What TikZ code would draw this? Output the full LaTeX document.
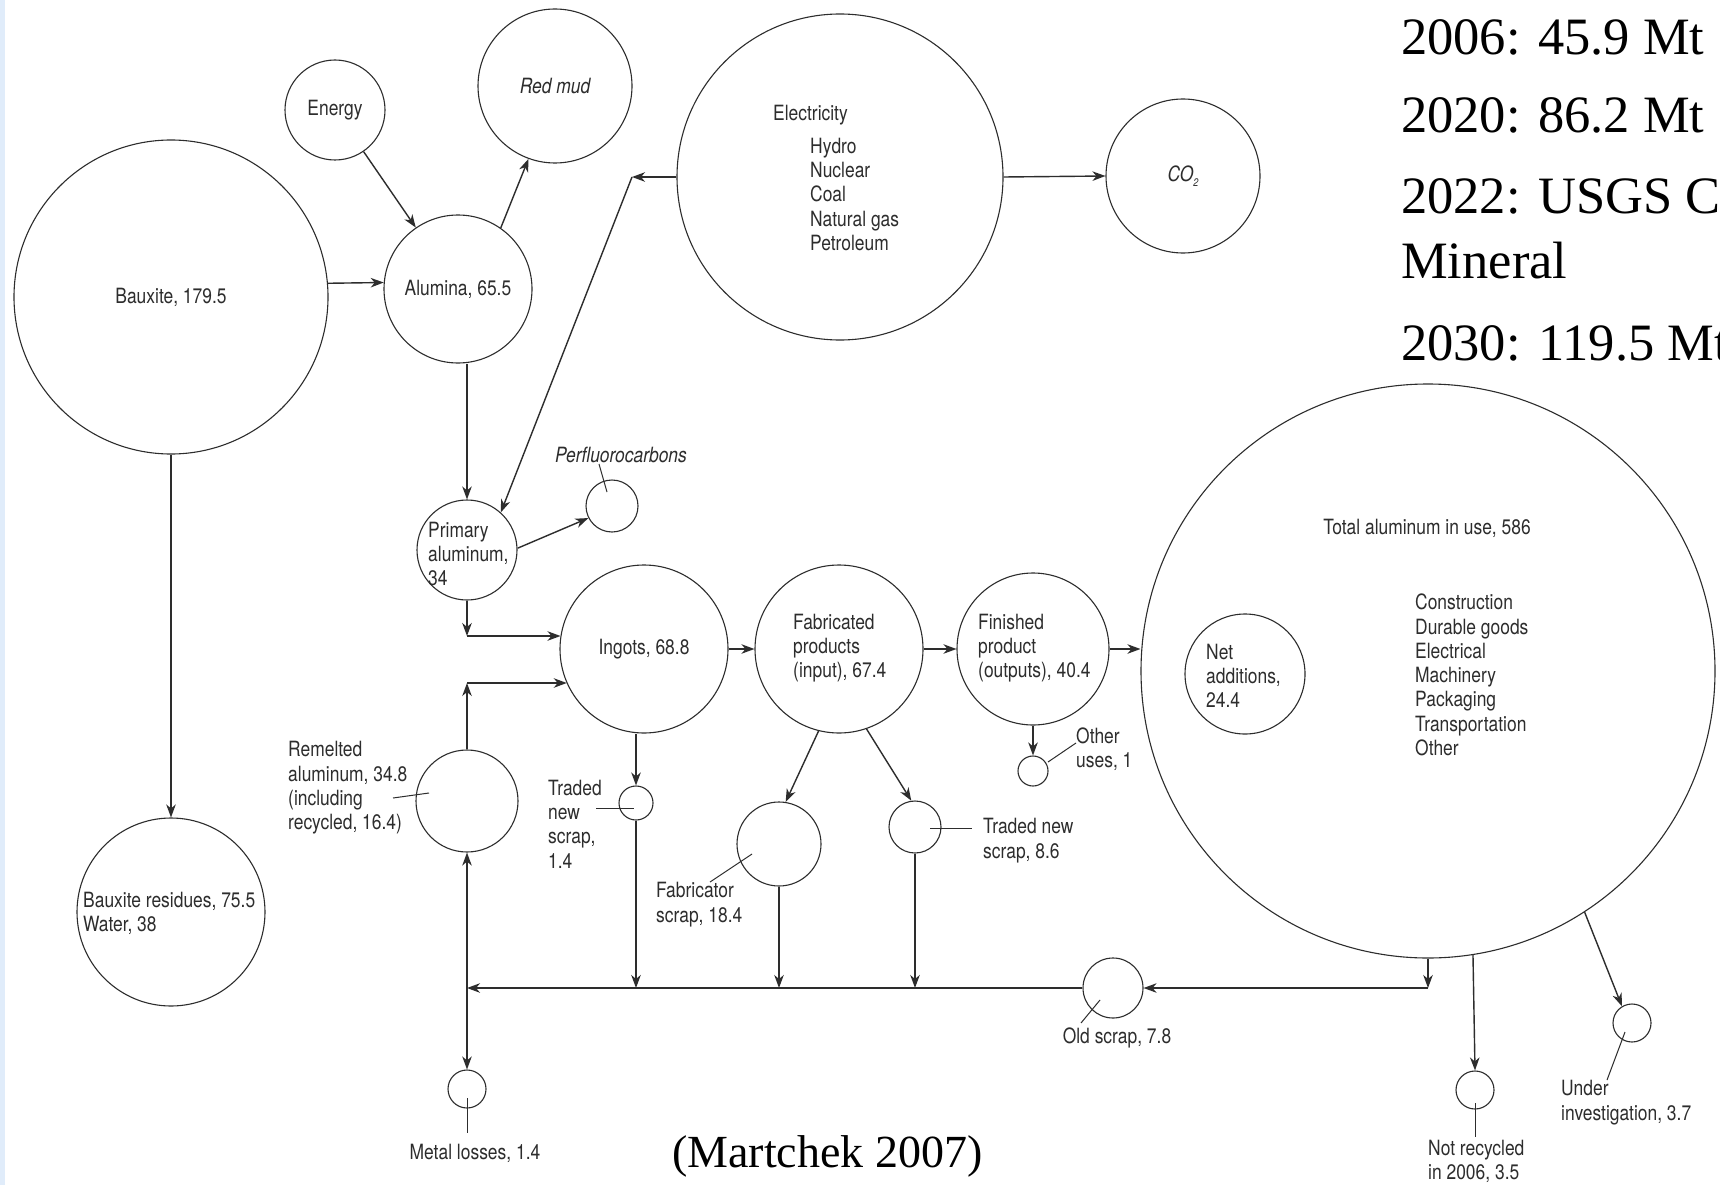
\documentclass[tikz,border=0pt]{standalone}
\usepackage{fontspec}
\setmainfont{Liberation Serif}
\newfontfamily\dfont[FakeStretch=0.83]{TeX Gyre Heros}
\usetikzlibrary{arrows.meta}
\definecolor{leftband}{RGB}{224,236,250}
\definecolor{ink}{RGB}{45,45,45}

\begin{document}
\begin{tikzpicture}[x=1pt,y=-1pt,
  every node/.style={inner sep=0pt},
  ln/.style={line width=1.4pt, draw=ink},
  arr/.style={ln, -{Stealth[length=13pt,width=9.5pt,inset=4pt]}},
  ball/.style={circle, draw=ink, line width=1.1pt, minimum size=#1pt, inner sep=0pt},
  txt/.style={font={\dfont\fontsize{21}{24.3}\selectfont}, text=ink, align=left},
  big/.style={font={\fontsize{52.5}{60}\selectfont}, anchor=base west},
]
\useasboundingbox (0,0) rectangle (1720,1185);
\clip (0,0) rectangle (1720,1185);
\fill[white] (0,0) rectangle (1720,1185);
\fill[leftband] (0,0) rectangle (5,1185);

% ---- stocks and flows (circles)
\node[ball=100, txt] (energy) at (335,110) {Energy};
\node[ball=154, txt] (redmud) at (555,86) {\itshape Red mud};
\node[ball=314, txt] (bauxite) at (171,297) {Bauxite, 179.5};
\node[ball=148, txt] (alumina) at (458,289) {Alumina, 65.5};
\node[ball=326] (elec) at (840,177) {};
\node[ball=154, txt] (co2) at (1183,176) {\itshape CO\raisebox{-0.45ex}{\fontsize{11}{11}\selectfont 2}};
\node[ball=100] (prim) at (467,550) {};
\node[ball=52] (pfc) at (612,506) {};
\node[ball=168, txt] (ingots) at (644,649) {Ingots, 68.8};
\node[ball=168] (fab) at (839,649) {};
\node[ball=152] (fin) at (1033,649) {};
\node[ball=574] (total) at (1428,671) {};
\node[ball=120] (net) at (1245,674) {};
\node[ball=30] (other) at (1033,771) {};
\node[ball=102] (remelt) at (467,801) {};
\node[ball=34] (tns1) at (636,803) {};
\node[ball=84] (fabscrap) at (779,844) {};
\node[ball=52] (tns2) at (915,827) {};
\node[ball=60] (oldscrap) at (1113,988) {};
\node[ball=38] (metal) at (467,1089) {};
\node[ball=38] (notrec) at (1475,1090) {};
\node[ball=38] (under) at (1632,1023) {};
\node[ball=188] (residues) at (171,912) {};

% ---- texts
\node[txt, anchor=west] (electitle) at (773,115) {Electricity};
\node[txt, anchor=west] (eleclist) at (810,194.5) {Hydro\\Nuclear\\Coal\\Natural gas\\Petroleum};
\node[txt] (totaltitle) at (1427,528) {Total aluminum in use, 586};
\node[txt, anchor=west] (uses) at (1415,675) {Construction\\Durable goods\\Electrical\\Machinery\\Packaging\\Transportation\\Other};
\node[txt, anchor=west] (nett) at (1206,676) {Net\\additions,\\24.4};
\node[txt, anchor=west] (primt) at (428,554) {Primary\\aluminum,\\34};
\node[txt, anchor=west] (fabt) at (793,648) {Fabricated\\products\\(input), 67.4};
\node[txt, anchor=west] (fint) at (978,648) {Finished\\product\\(outputs), 40.4};
\node[txt, anchor=west] (remeltt) at (288,788) {Remelted\\aluminum, 34.8\\(including\\recycled, 16.4)};
\node[txt, anchor=west] (tns1t) at (548,824) {Traded\\new\\scrap,\\1.4};
\node[txt, anchor=west] (fabscrapt) at (656,904.5) {Fabricator\\scrap, 18.4};
\node[txt, anchor=west] (tns2t) at (983,840.5) {Traded new\\scrap, 8.6};
\node[txt, anchor=west] (othert) at (1076,749.5) {Other\\uses, 1};
\node[txt, anchor=west] (notrect) at (1428,1161.5) {Not recycled\\in 2006, 3.5};
\node[txt, anchor=west] (undert) at (1561,1102.5) {Under\\investigation, 3.7};
\node[txt, anchor=west] (residuest) at (83,913.5) {Bauxite residues, 75.5\\Water, 38};
\node[txt] (oldscrapt) at (1117,1038) {Old scrap, 7.8};
\node[txt] (metalt) at (475,1153) {Metal losses, 1.4};
\node[txt] (pfct) at (621,455) {\itshape Perfluorocarbons};

% ---- production-side flows
\draw[arr] (energy) -- (alumina);
\draw[arr] (alumina.55) -- (redmud.250);
\draw[arr] (bauxite.5) -- (alumina.175);
\draw[arr] (bauxite.south) -- (residues.north);
\draw[arr] (alumina.south -| prim.north) -- (prim.north);
\coordinate (ecorner) at (632,177);
\draw[arr] (elec.west) -- (ecorner);
\draw[arr] (ecorner) -- (prim.48);
\draw[arr] (elec.east) -- (co2.west);
\draw[arr] (prim.2) -- (pfc.207);

% ---- into the ingot pool
\coordinate (pa) at (467,636);
\draw[arr] (prim.south) -- (pa);
\draw[arr] (pa) -- (pa -| ingots.171);
\coordinate (ra) at (467,683);
\draw[arr] (remelt.north) -- (ra);
\draw[arr] (ra) -- (ra -| ingots.204);

% ---- main chain
\draw[arr] (ingots.east) -- (fab.west);
\draw[arr] (fab.east) -- (fin.west);
\draw[arr] (fin.east) -- (fin.east -| total.west);
\draw[arr] (fin.south) -- (other.north);

% ---- scrap collection line
\coordinate (sj) at (467,988);
\coordinate (tc) at (1428,988);
\draw[arr] (ingots.south -| tns1.north) -- (tns1.north);
\draw[arr] (tns1.south) -- (tns1.south |- sj);
\draw[arr] (fab.256) -- (fabscrap.81);
\draw[arr] (fab.289) -- (tns2.98);
\draw[arr] (fabscrap.south) -- (fabscrap.south |- sj);
\draw[arr] (tns2.south) -- (tns2.south |- sj);
\draw[arr] (total.south) -- (tc);
\draw[arr] (tc) -- (oldscrap.east);
\draw[arr] (oldscrap.west) -- (sj);
\draw[arr] (sj) -- (remelt.south);
\draw[arr] (sj) -- (metal.north);
\draw[arr] (total.279.4) -- (notrec.north);
\draw[arr] (total.303) -- (under.121);

% ---- label leaders
\coordinate (l1a) at (599,464);   \coordinate (l1b) at (607,492);
\coordinate (l2a) at (1048,762);  \coordinate (l2b) at (1076,743);
\coordinate (l3a) at (393,798);   \coordinate (l3b) at (429,793);
\coordinate (l4a) at (596,808);   \coordinate (l4b) at (634,808);
\coordinate (l5a) at (710,882);   \coordinate (l5b) at (752,854);
\coordinate (l6a) at (930,828);   \coordinate (l6b) at (972,828);
\coordinate (l7a) at (1081,1023); \coordinate (l7b) at (1100,1000);
\coordinate (l8a) at (467,1098);  \coordinate (l8b) at (467,1133);
\coordinate (l9a) at (1475,1103); \coordinate (l9b) at (1475,1137);
\coordinate (l10a) at (1607,1080); \coordinate (l10b) at (1625,1032);
\foreach \p in {1,...,10} \draw[ln, line width=1pt] (l\p a) -- (l\p b);

% ---- side notes
\node[big] (y2006) at (1401,55) {2006: 45.9 Mt};
\node[big] (y2020) at (1401,133) {2020: 86.2 Mt};
\node[big] (y2022) at (1401,213) {2022: USGS C};
\node[big] (y2022b) at (1401,278) {Mineral};
\node[big] (y2030) at (1401,360) {2030: 119.5 Mt};
\node[font={\fontsize{46}{52}\selectfont}, anchor=base west] (source) at (672,1167) {(Martchek 2007)};
\end{tikzpicture}
\end{document}
